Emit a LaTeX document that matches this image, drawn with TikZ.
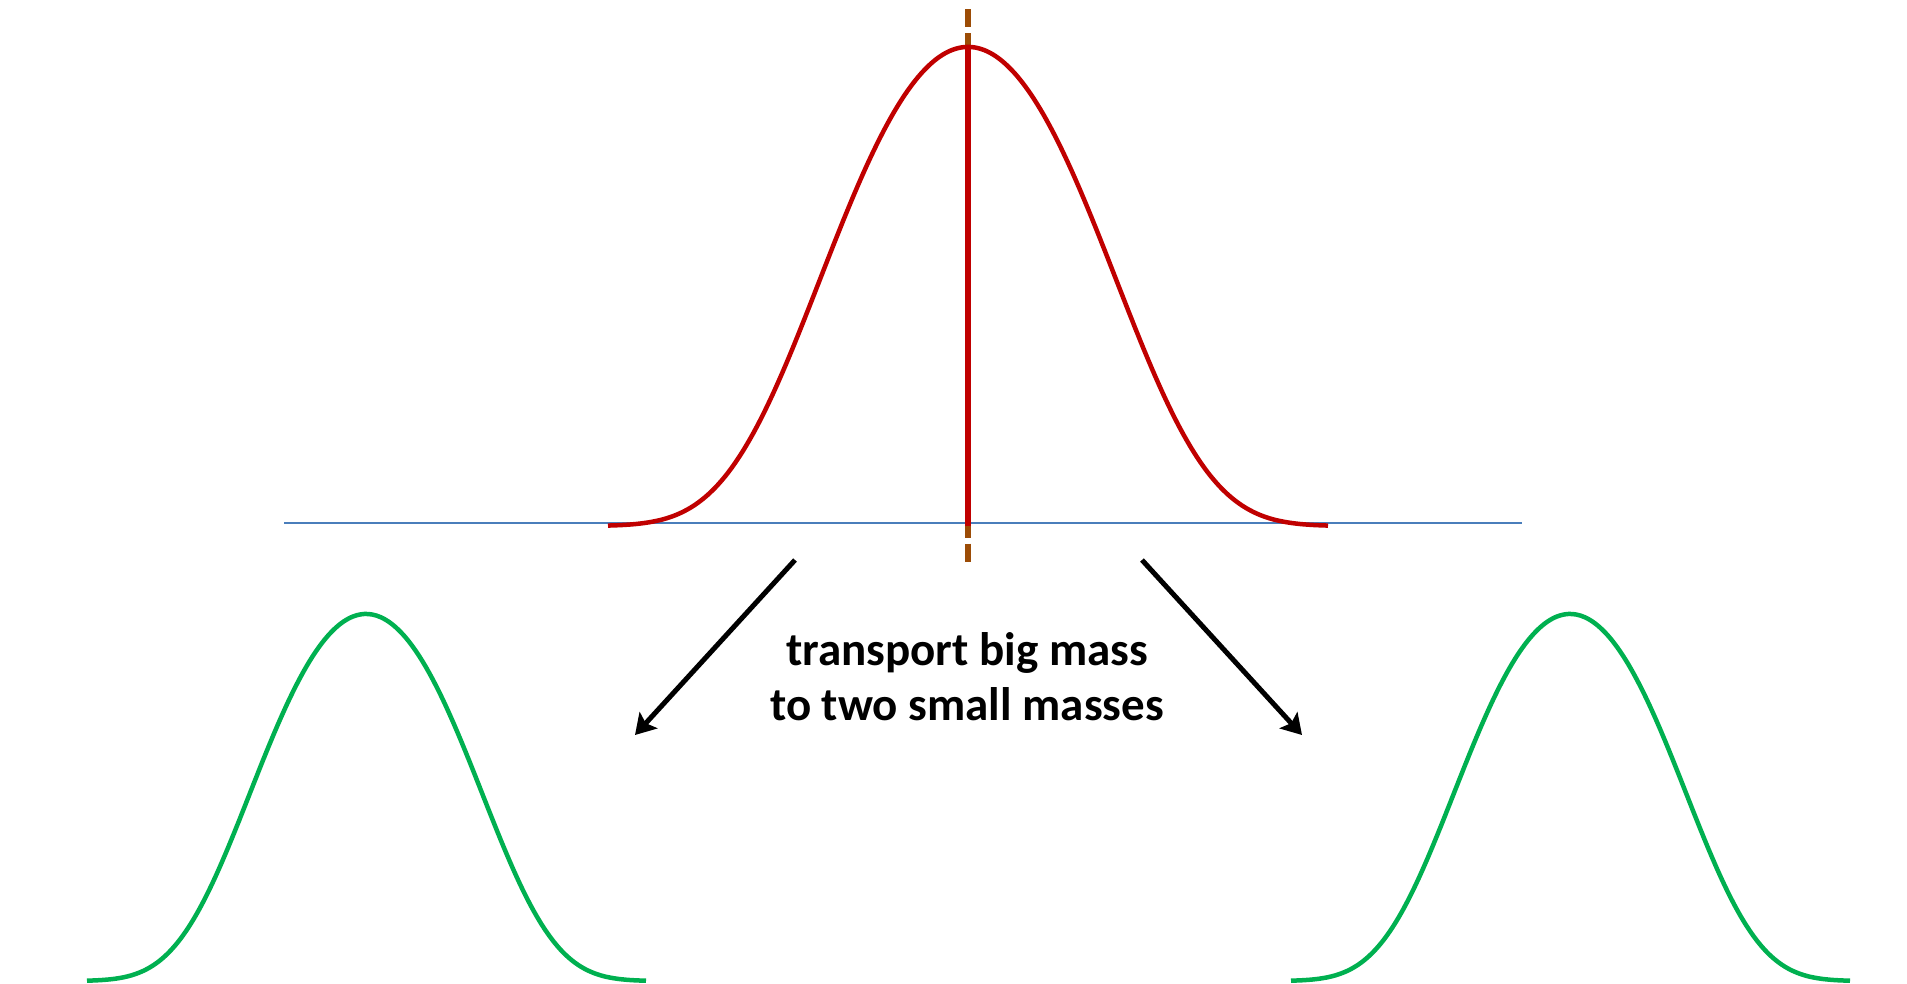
\documentclass[tikz,border=0pt]{standalone}
\usepackage{fontspec}
\setmainfont{Carlito}
\usetikzlibrary{arrows.meta}
\definecolor{axisblue}{RGB}{74, 126, 187}
\definecolor{massred}{RGB}{192, 0, 0}
\definecolor{splitgreen}{RGB}{0, 176, 80}
\definecolor{centerbrown}{RGB}{156, 76, 6}

\begin{document}
\begin{tikzpicture}[x=1pt, y=-1pt, >={Stealth[length=20pt, width=24pt, inset=4pt]},
    smallmass/.style={line width=4.5pt, splitgreen, line join=round},
    transport/.style={->, line width=5pt}]
    \useasboundingbox (0,0) rectangle (1907,983);

    % Axis
    \draw[line width=2pt, axisblue] (284,523) -- (1522,523);

    % Centre line
    \draw[line width=6pt, centerbrown, dash pattern=on 18.3pt off 6pt] (968,9) -- (968,562);

    % Big mass
    \draw[line width=4.5pt, massred, line join=round] plot[domain=608:1328, samples=160, smooth]
        (\x, {526 - 479*exp(-((\x-968)/140)^2/2 - ((\x-968)/260)^4)});
    \draw[line width=6pt, massred] (968,47) -- (968,526);

    % Two small masses
    \draw[smallmass] plot[domain=87:646, samples=140, smooth]
        (\x, {981 - 367*exp(-((\x-366)/110)^2/2 - ((\x-366)/200)^4)});
    \draw[smallmass] plot[domain=1291:1850, samples=140, smooth]
        (\x, {981 - 367*exp(-((\x-1570)/110)^2/2 - ((\x-1570)/200)^4)});

    % Transport
    \node[font=\bfseries\fontsize{47}{55}\selectfont, align=center] (caption) at (967,677)
        {transport big mass\\to two small masses};
    \coordinate (leftfrom) at (795,560);
    \coordinate (leftto) at (635,735);
    \coordinate (rightfrom) at (1142,560);
    \coordinate (rightto) at (1302,735);
    \draw[transport] (leftfrom) -- (leftto);
    \draw[transport] (rightfrom) -- (rightto);
\end{tikzpicture}
\end{document}
